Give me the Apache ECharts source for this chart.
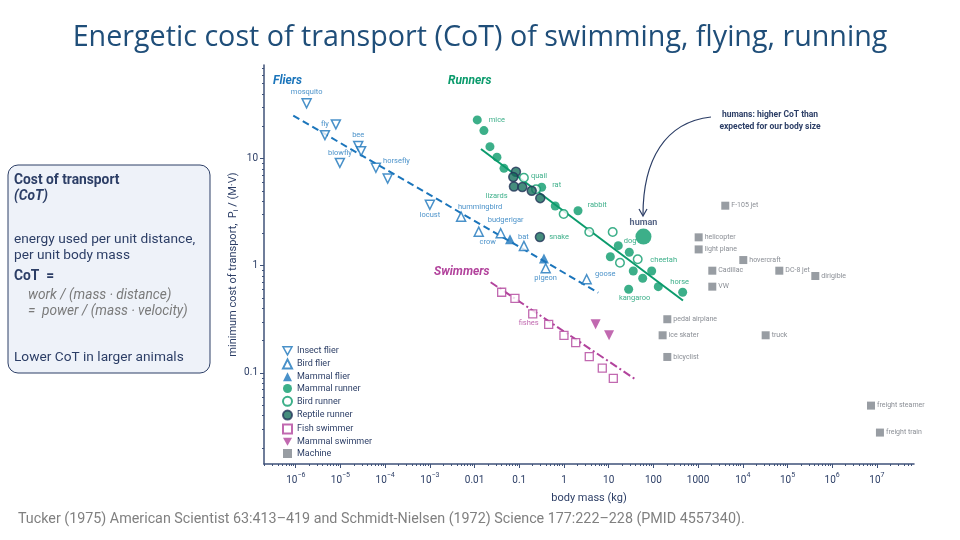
<!DOCTYPE html>
<html>
<head>
<meta charset="utf-8">
<script src="https://cdn.jsdelivr.net/npm/echarts@6/dist/echarts.min.js"></script>
<style>
  html, body { margin: 0; padding: 0; background: #fff; }
  #main { width: 960px; height: 540px; }
</style>
</head>
<body>
<div id="main"></div>
<script>
// ---- data (mass in kg, cost of transport) ----
const insectMass = [1.75e-6, 7.9e-6, 4.5e-6, 9.7e-6, 2.5e-5, 2.9e-5, 6.2e-5, 1.14e-4, 1.0e-3];
const insectCot = [32.7, 20.8, 16.5, 9.1, 13.1, 11.7, 8.2, 6.5, 3.7];
const insectNames = ['mosquito', '', 'fly', 'blowfly', 'bee', '', 'horsefly', '', 'locust'];

const birdFlyMass = [5.0e-3, 0.0124, 0.0384, 0.127, 0.39, 3.22];
const birdFlyCot = [2.87, 2.08, 2.01, 1.53, 0.947, 0.748];
const birdFlyNames = ['hummingbird', 'crow', 'budgerigar', '', 'pigeon', 'goose'];

const batMass = [0.062, 0.357];
const batCot = [1.765, 1.17];
const batNames = ['bat', ''];

const mamRunMass = [0.0115, 0.0162, 0.0221, 0.0317, 0.0455, 0.317, 0.638, 2.06, 16.4, 28.9, 10.9, 35.5, 57.7, 91.6, 128.8, 452, 28];
const mamRunCot = [22.9, 18.2, 12.9, 10.3, 8.1, 5.39, 3.61, 3.26, 1.54, 1.335, 1.214, 0.893, 0.764, 0.893, 0.638, 0.566, 0.603];
const mamRunNames = ['mice', '', '', '', '', 'rat', '', 'rabbit', 'dog', '', '', '', '', 'cheetah', '', 'horse', 'kangaroo'];

const humanMass = [60];
const humanCot = [1.87];

const birdRunMass = [0.127, 0.237, 0.984, 3.68, 12.3, 17.9, 44.6];
const birdRunCot = [6.62, 5.16, 3.04, 2.06, 2.06, 1.068, 1.148];
const birdRunNames = ['quail', '', '', '', '', '', ''];

const reptMass = [0.0843, 0.0735, 0.076, 0.117, 0.19, 0.295, 0.29];
const reptCot = [7.53, 6.72, 5.48, 5.42, 5.0, 4.27, 1.854];
const reptNames = ['', '', 'lizards', '', '', '', 'snake'];

const fishMass = [0.0404, 0.080, 0.2, 0.455, 1.0, 1.83, 3.68, 7.2, 12.7];
const fishCot = [0.566, 0.497, 0.355, 0.284, 0.2246, 0.1916, 0.142, 0.111, 0.0892];
const fishNames = ['', '', 'fishes', '', '', '', '', '', ''];

const mamSwimMass = [5.1, 10.2];
const mamSwimCot = [0.284, 0.2246];

const machineNames = ['F-105 jet', 'helicopter', 'light plane', 'hovercraft', 'Cadillac', 'DC-8 jet', 'dirigible', 'VW',
  'pedal airplane', 'ice skater', 'truck', 'bicyclist', 'freight steamer', 'freight train'];
const machineMass = [4060, 1030, 1030, 10260, 2080, 65600, 4.19e5, 2080, 205, 161, 32500, 205, 7.38e6, 1.17e7];
const machineCot = [3.63, 1.84, 1.42, 1.13, 0.899, 0.899, 0.802, 0.638, 0.317, 0.2246, 0.2246, 0.141, 0.0496, 0.0278];

// fitted trend lines (end points)
const flierLineMass = [8.8e-7, 5.85];
const flierLineCot = [25.1, 0.561];
const runnerLineMass = [0.0139, 459];
const runnerLineCot = [12.27, 0.474];
const swimLineMass = [0.0229, 38.7];
const swimLineCot = [0.701, 0.0879];

// axis ticks (log10 units)
const xMajor = [-6, -5, -4, -3, -2, -1, 0, 1, 2, 3, 4, 5, 6, 7];
const yMajor = [-1, 0, 1];
const xRange = [-6.71, 7.83];
const yRange = [-1.849, 1.872];

// ---- styles ----
const blue = '#1b75bb', green = '#0b9b6c', magenta = '#b2439c', gray = '#7e848c', navy = '#2c3e66';
const axisCol = '#3f5279';
const FONT = 'Roboto';
const downTri = 'path://M0,0 L10,0 L5,9 Z';

// where each point label sits
const labelLayout = {
  mosquito: { position: 'top', distance: 2 },
  fly: { position: 'top', distance: 2 },
  blowfly: { position: 'top', distance: 1 },
  bee: { position: 'top', distance: 2 },
  horsefly: { position: 'right', distance: 2, offset: [0, -7] },
  locust: { position: 'bottom', distance: 1 },
  hummingbird: { position: 'top', distance: 0, offset: [19, 0] },
  crow: { position: 'bottom', distance: 1, offset: [9, 0] },
  budgerigar: { position: 'top', distance: 4, offset: [5, 0] },
  bat: { position: 'right', distance: 3, offset: [0, -2] },
  pigeon: { position: 'bottom', distance: 1 },
  goose: { position: 'right', distance: 3, offset: [0, -5] },
  mice: { position: 'right', distance: 7 },
  quail: { position: 'right', distance: 2, offset: [0, -2] },
  rat: { position: 'right', distance: 6, offset: [0, -2] },
  lizards: { position: 'left', distance: 1, offset: [0, 10] },
  rabbit: { position: 'right', distance: 5, offset: [0, -6] },
  snake: { position: 'right', distance: 4 },
  human: { position: 'top', distance: 1 },
  dog: { position: 'right', distance: 1, offset: [0, -5] },
  cheetah: { position: 'top', distance: 2, offset: [12, 0] },
  horse: { position: 'top', distance: 2, offset: [-3, 0] },
  kangaroo: { position: 'bottom', distance: 0, offset: [6, 0] },
  fishes: { position: 'bottom', distance: 1, offset: [-4, 0] }
};

function toPoints(mass, cot, names) {
  return mass.map((m, i) => {
    const item = { value: [Math.log10(m), Math.log10(cot[i])] };
    const nm = names ? names[i] : '';
    if (nm) {
      item.name = nm;
      item.label = Object.assign({ show: true }, labelLayout[nm] || { position: 'right', distance: 2 });
    }
    return item;
  });
}

function minorTicks(range) {
  const out = [];
  for (let n = Math.floor(range[0]); n <= Math.ceil(range[1]); n++) {
    for (let k = 2; k <= 9; k++) {
      const v = n + Math.log10(k);
      if (v > range[0] && v < range[1]) out.push(v);
    }
  }
  return out;
}

function fmtX(v) {
  const r = Math.round(v);
  const plain = { '-2': '0.01', '-1': '0.1', '0': '1', '1': '10', '2': '100', '3': '1000' };
  if (plain[r] !== undefined) return plain[r];
  return '{b|10}{s|' + (r < 0 ? '\u2212' + (-r) : r) + '}';
}
function fmtY(v) {
  const r = Math.round(v);
  return { '-1': '0.1', '0': '1', '1': '10' }[r];
}

function scatter(name, data, symbol, size, itemStyle, labelColor, rotate) {
  return {
    name: name, type: 'scatter', data: data, symbol: symbol, symbolSize: size,
    symbolRotate: rotate || 0, itemStyle: itemStyle, z: 3,
    label: { show: false, formatter: '{b}', fontSize: 7.5, color: labelColor, fontFamily: FONT },
    emphasis: { disabled: true }
  };
}

function trend(name, mass, cot, color, type) {
  return {
    name: name, type: 'line', data: toPoints(mass, cot), symbol: 'none', silent: true, z: 2,
    lineStyle: { color: color, width: 2, type: type }
  };
}

const openStyle = c => ({ color: '#fff', borderColor: c, borderWidth: 1.5 });

const chart = echarts.init(document.getElementById('main'));

const legendItems = [
  { name: 'Insect flier', icon: downTri, itemStyle: openStyle(blue) },
  { name: 'Bird flier' }, { name: 'Mammal flier' }, { name: 'Mammal runner' }, { name: 'Bird runner' },
  { name: 'Reptile runner' }, { name: 'Fish swimmer' },
  { name: 'Mammal swimmer', icon: downTri, itemStyle: { color: magenta } },
  { name: 'Machine' }
];

const minorAxis = (pos, range, ticks) => ({
  type: 'value', position: pos, min: range[0], max: range[1],
  axisLine: { show: false, onZero: false },
  axisTick: { show: true, customValues: ticks, length: 2, lineStyle: { color: axisCol } },
  axisLabel: { show: false }, splitLine: { show: false }
});

const option = {
  animation: false,
  textStyle: { fontFamily: FONT },
  grid: { left: 264, right: 46, top: 65, bottom: 76, containLabel: false },
  legend: {
    data: legendItems, orient: 'vertical', left: 277, top: 341,
    itemWidth: 9, itemHeight: 9, itemGap: 2.8,
    textStyle: { fontSize: 9, color: navy, fontFamily: FONT },
    selectedMode: false
  },
  xAxis: [
    {
      type: 'value', position: 'bottom', min: xRange[0], max: xRange[1],
      name: 'body mass (kg)', nameLocation: 'middle', nameGap: 22,
      nameTextStyle: { fontSize: 11, color: navy, fontFamily: FONT },
      axisLine: { show: true, onZero: false, lineStyle: { color: axisCol, width: 1.5 } },
      axisTick: { show: true, customValues: xMajor, length: 4, lineStyle: { color: axisCol } },
      axisLabel: {
        customValues: xMajor, formatter: fmtX, fontSize: 10, color: navy, lineHeight: 16, margin: 8,
        rich: { b: { fontSize: 10, lineHeight: 16, color: navy }, s: { fontSize: 7, lineHeight: 8, verticalAlign: 'top', color: navy } }
      },
      splitLine: { show: false }
    },
    minorAxis('bottom', xRange, minorTicks(xRange))
  ],
  yAxis: [
    {
      type: 'value', position: 'left', min: yRange[0], max: yRange[1],
      name: '{a|minimum cost of transport,  P}{s|i}{a| / (M\u00b7V)}', nameLocation: 'middle', nameGap: 24,
      nameMoveOverlap: false,
      nameTextStyle: {
        fontSize: 11, color: navy,
        rich: { a: { fontSize: 11, lineHeight: 14, color: navy }, s: { fontSize: 7, lineHeight: 7, verticalAlign: 'bottom', color: navy } }
      },
      axisLine: { show: true, onZero: false, lineStyle: { color: axisCol, width: 1.5 } },
      axisTick: { show: true, customValues: yMajor, length: 4, lineStyle: { color: axisCol } },
      axisLabel: { customValues: yMajor, formatter: fmtY, fontSize: 10, color: navy, margin: 6 },
      splitLine: { show: false }
    },
    minorAxis('left', yRange, minorTicks(yRange))
  ],
  series: [
    trend('flier fit', flierLineMass, flierLineCot, blue, [7, 4]),
    trend('runner fit', runnerLineMass, runnerLineCot, green, 'solid'),
    trend('swimmer fit', swimLineMass, swimLineCot, magenta, [8, 3, 2, 3]),
    scatter('Insect flier', toPoints(insectMass, insectCot, insectNames), 'triangle', 9, openStyle(blue), blue, 180),
    scatter('Bird flier', toPoints(birdFlyMass, birdFlyCot, birdFlyNames), 'triangle', 9, openStyle(blue), blue),
    scatter('Mammal flier', toPoints(batMass, batCot, batNames), 'triangle', 10, { color: blue }, blue),
    scatter('Mammal runner', toPoints(mamRunMass, mamRunCot, mamRunNames), 'circle', 9, { color: green }, green),
    scatter('Bird runner', toPoints(birdRunMass, birdRunCot, birdRunNames), 'circle', 8.5, openStyle(green), green),
    scatter('Reptile runner', toPoints(reptMass, reptCot, reptNames), 'circle', 9,
      { color: '#17705c', borderColor: '#24365a', borderWidth: 1.5 }, green),
    Object.assign(scatter('human', toPoints(humanMass, humanCot, ['human']), 'circle', 16, { color: green }, navy),
      { label: { show: false, formatter: '{b}', fontSize: 9, fontWeight: 'bold', color: navy, fontFamily: FONT } }),
    scatter('Fish swimmer', toPoints(fishMass, fishCot, fishNames), 'rect', 8,
      { color: '#fff', borderColor: magenta, borderWidth: 1.3 }, magenta),
    scatter('Mammal swimmer', toPoints(mamSwimMass, mamSwimCot), 'triangle', 10, { color: magenta }, magenta, 180),
    Object.assign(scatter('Machine', toPoints(machineMass, machineCot, machineNames), 'rect', 8, { color: gray }, '#6c7179'),
      { label: { show: false, formatter: '{b}', fontSize: 7, color: '#6c7179', fontFamily: FONT } })
  ],
  graphic: [
    {
      type: 'text', left: 'center', top: 23,
      style: { text: 'Energetic cost of transport (CoT) of swimming, flying, running', fontSize: 28.7, fontFamily: 'Open Sans', fill: '#1f4e79' }
    },
    {
      type: 'rect', shape: { x: 8, y: 165, width: 202, height: 208, r: 10 },
      style: { fill: '#eef2f9', stroke: navy, lineWidth: 1 }
    },
    { type: 'text', style: { text: 'Cost of transport', x: 14, y: 181, verticalAlign: 'middle', fontSize: 13.8, fontWeight: 'bold', fontFamily: FONT, fill: navy } },
    { type: 'text', style: { text: '(CoT)', x: 14, y: 197, verticalAlign: 'middle', fontSize: 13.8, fontWeight: 'bold', fontStyle: 'italic', fontFamily: FONT, fill: navy } },
    { type: 'text', style: { text: 'energy used per unit distance,', x: 14, y: 240, verticalAlign: 'middle', fontSize: 13.7, fontFamily: FONT, fill: navy } },
    { type: 'text', style: { text: 'per unit body mass', x: 14, y: 256, verticalAlign: 'middle', fontSize: 13.7, fontFamily: FONT, fill: navy } },
    { type: 'text', style: { text: 'CoT  =', x: 14, y: 277, verticalAlign: 'middle', fontSize: 13.8, fontWeight: 'bold', fontFamily: FONT, fill: navy } },
    { type: 'text', style: { text: 'work / (mass \u00b7 distance)', x: 28, y: 296, verticalAlign: 'middle', fontSize: 13.7, fontStyle: 'italic', fontFamily: FONT, fill: '#7a7a7a' } },
    { type: 'text', style: { text: '=  power / (mass \u00b7 velocity)', x: 28, y: 312, verticalAlign: 'middle', fontSize: 13.7, fontStyle: 'italic', fontFamily: FONT, fill: '#7a7a7a' } },
    { type: 'text', style: { text: 'Lower CoT in larger animals', x: 14, y: 358, verticalAlign: 'middle', fontSize: 13.7, fontFamily: FONT, fill: navy } },
    { type: 'text', style: { text: 'Fliers', x: 273, y: 81, verticalAlign: 'middle', fontSize: 12, fontWeight: 'bold', fontStyle: 'italic', fontFamily: FONT, fill: blue } },
    { type: 'text', style: { text: 'Runners', x: 448, y: 81, verticalAlign: 'middle', fontSize: 12, fontWeight: 'bold', fontStyle: 'italic', fontFamily: FONT, fill: green } },
    { type: 'text', style: { text: 'Swimmers', x: 434, y: 272, verticalAlign: 'middle', fontSize: 12, fontWeight: 'bold', fontStyle: 'italic', fontFamily: FONT, fill: magenta } },
    { type: 'text', style: { text: 'humans: higher CoT than\nexpected for our body size', x: 770, y: 121, align: 'center', verticalAlign: 'middle', lineHeight: 12, fontSize: 8.5, fontWeight: 'bold', fontFamily: FONT, fill: navy } },
    {
      type: 'bezierCurve', shape: { x1: 711, y1: 117, cpx1: 665, cpy1: 122, cpx2: 643, cpy2: 160, x2: 643, y2: 215 },
      style: { stroke: navy, lineWidth: 1.2, fill: null }
    },
    {
      type: 'polyline', shape: { points: [[639, 209], [643, 216], [647, 209]] },
      style: { stroke: navy, lineWidth: 1.2, fill: null }
    },
    {
      type: 'text', style: { text: 'Tucker (1975) American Scientist 63:413\u2013419 and Schmidt-Nielsen (1972) Science 177:222\u2013228 (PMID 4557340).', x: 18, y: 519, verticalAlign: 'middle', fontSize: 14.3, fontFamily: FONT, fill: '#808080' }
    }
  ]
};

chart.setOption(option);
</script>
</body>
</html>
